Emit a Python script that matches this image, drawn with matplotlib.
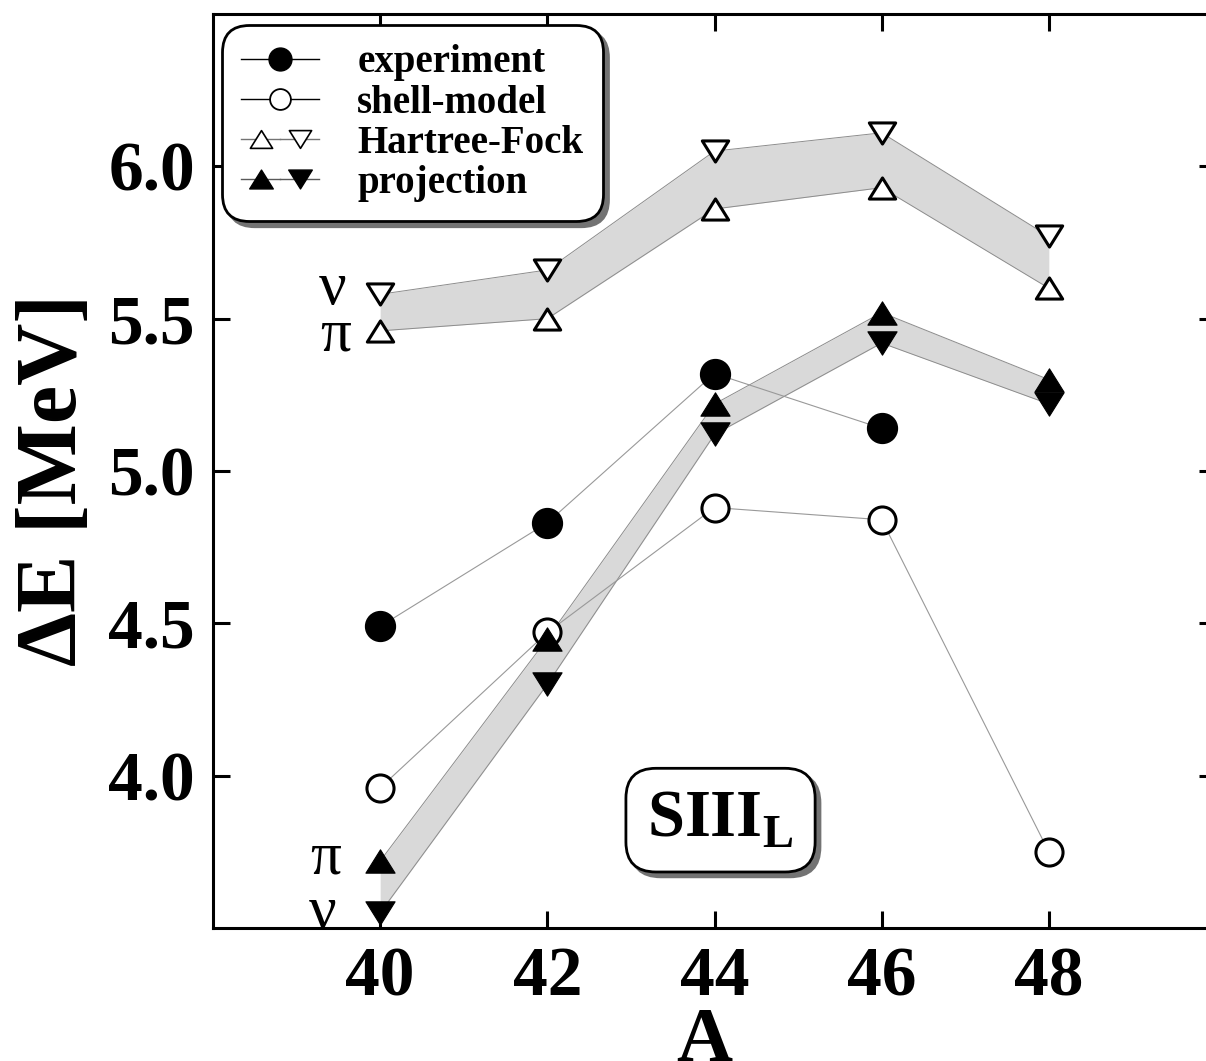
import numpy as np
import matplotlib
matplotlib.use("Agg")
import matplotlib.pyplot as plt
from matplotlib.path import Path
from matplotlib.lines import Line2D
from matplotlib.legend_handler import HandlerTuple
from matplotlib import transforms

plt.rcParams['font.family'] = ['Liberation Serif', 'DejaVu Serif']
plt.rcParams['font.weight'] = 'bold'
plt.rcParams['axes.labelweight'] = 'bold'
plt.rcParams['mathtext.fontset'] = 'custom'
plt.rcParams['mathtext.bf'] = 'Liberation Serif:bold'
plt.rcParams['mathtext.rm'] = 'Liberation Serif:bold'

# mass number and level splittings (MeV)
A = [40, 42, 44, 46, 48]
A_exp = [40, 42, 44, 46]
experiment = [4.49, 4.83, 5.32, 5.14]
shell_model = [3.96, 4.47, 4.88, 4.84, 3.75]
hf_pi = [5.46, 5.50, 5.86, 5.93, 5.60]
hf_nu = [5.58, 5.66, 6.05, 6.11, 5.77]
proj_pi = [3.72, 4.45, 5.22, 5.52, 5.30]
proj_nu = [3.55, 4.30, 5.12, 5.42, 5.22]

xticks = [40, 42, 44, 46, 48]
yticks = [4.0, 4.5, 5.0, 5.5, 6.0]
legend_labels = ['experiment', 'shell-model', 'Hartree-Fock', 'projection']

# slightly flattened triangles
tri_up = Path([(0, 0.8), (-1, -0.8), (1, -0.8), (0, 0.8)],
              [Path.MOVETO, Path.LINETO, Path.LINETO, Path.CLOSEPOLY])
tri_dn = Path([(0, -0.8), (-1, 0.8), (1, 0.8), (0, -0.8)],
              [Path.MOVETO, Path.LINETO, Path.LINETO, Path.CLOSEPOLY])

fig = plt.figure(figsize=(12.06, 10.61), dpi=100)
ax = fig.add_axes([213/1206, 133/1061, 1003/1206, 914/1061])

band_col = '#d9d9d9'
edge_col = '0.55'
line_col = '0.6'

# shaded bands between proton and neutron values
ax.fill_between(A, hf_pi, hf_nu, color=band_col, lw=0, zorder=1)
ax.fill_between(A, proj_pi, proj_nu, color=band_col, lw=0, zorder=1)
for ys in (hf_pi, hf_nu, proj_pi, proj_nu):
    ax.plot(A, ys, color=edge_col, lw=0.7, zorder=1.5)

# thin connecting lines
ax.plot(A_exp, experiment, color=line_col, lw=0.8, zorder=2)
ax.plot(A, shell_model, color=line_col, lw=0.8, zorder=2)

ax.plot(A, shell_model, ls='none', marker='o', ms=19.5, mfc='white',
        mec='k', mew=2.2, zorder=3)
ax.plot(A, hf_pi, ls='none', marker=tri_up, ms=19, mfc='white',
        mec='k', mew=2.2, zorder=3)
ax.plot(A, hf_nu, ls='none', marker=tri_dn, ms=19, mfc='white',
        mec='k', mew=2.2, zorder=3)
ax.plot(A, proj_pi, ls='none', marker=tri_up, ms=21, mfc='k',
        mec='k', mew=0.8, zorder=4)
ax.plot(A, proj_nu, ls='none', marker=tri_dn, ms=21, mfc='k',
        mec='k', mew=0.8, zorder=4)
ax.plot(A_exp, experiment, ls='none', marker='o', ms=21.5, mfc='k',
        mec='k', zorder=4)

# pi / nu tags at A=40
greek = dict(fontsize=44, fontweight='normal', ha='center', va='baseline',
             textcoords='offset points', zorder=5)
ax.annotate('ν', (A[0], hf_nu[0]), xytext=(-34.5, -7), **greek)
ax.annotate('π', (A[0], hf_pi[0]), xytext=(-32, -14), **greek)
ax.annotate('π', (A[0], proj_pi[0]), xytext=(-39.5, -9), **greek)
ax.annotate('ν', (A[0], proj_nu[0]), xytext=(-41.5, -11), **greek)

ax.set_xlim(38, 50)
ax.set_ylim(3.5, 6.5)
ax.set_xticks(xticks)
ax.set_xticklabels([str(t) for t in xticks])
ax.set_yticks(yticks)
ax.set_yticklabels(['%.1f' % t for t in yticks])
ax.tick_params(direction='in', length=12, width=2.2, top=True, right=True,
               labelsize=50, pad=13)
for s in ax.spines.values():
    s.set_linewidth(2.2)

ax.set_xlabel('A', fontsize=56, fontweight='bold')
ax.xaxis.set_label_coords(0.49, -0.086)
ax.set_ylabel('ΔE [MeV]', fontsize=62, fontweight='bold')
ax.yaxis.set_label_coords(-0.118, 0.49)

# legend
h_exp = Line2D([], [], color='k', lw=1, marker='o', ms=16.5, mfc='k', mec='k')
h_sm = Line2D([], [], color='k', lw=1, marker='o', ms=15, mfc='white',
              mec='k', mew=1.3)
h_hf_up = Line2D([], [], color='0.45', lw=1, marker=tri_up, ms=16,
                 mfc='white', mec='k', mew=1.2)
h_hf_dn = Line2D([], [], color='0.45', lw=1, marker=tri_dn, ms=16,
                 mfc='white', mec='k', mew=1.2)
h_pr_up = Line2D([], [], color='0.35', lw=1, marker=tri_up, ms=17, mfc='k',
                 mec='k')
h_pr_dn = Line2D([], [], color='0.35', lw=1, marker=tri_dn, ms=17, mfc='k',
                 mec='k')

leg = ax.legend([h_exp, h_sm, (h_hf_up, h_hf_dn), (h_pr_up, h_pr_dn)],
                legend_labels, loc='upper left',
                bbox_to_anchor=(0.009, 0.988), borderaxespad=0,
                fontsize=28, handlelength=2.0, handletextpad=0.98,
                labelspacing=0.08, borderpad=0.5, framealpha=1,
                edgecolor='k', fancybox=True,
                shadow={'color': '0.45', 'alpha': 1, 'ox': 4, 'oy': -4},
                handler_map={tuple: HandlerTuple(ndivide=None, pad=0)})
leg.get_frame().set_linewidth(2)
leg.get_frame().set_boxstyle('round', pad=0, rounding_size=0.7)

# force-parameter tag with drop shadow
tag = r'$\mathbf{SIII}_\mathbf{L}$'
shadow_tr = transforms.offset_copy(ax.transAxes, fig=fig, x=3.5, y=-3.5,
                                   units='points')
ax.text(0.506, 0.118, tag, transform=shadow_tr, fontsize=48, color='none',
        ha='center', va='center', zorder=5,
        bbox=dict(boxstyle='round,pad=0.32,rounding_size=0.45', fc='0.45',
                  ec='0.45', lw=2))
ax.text(0.506, 0.118, tag, transform=ax.transAxes, fontsize=48,
        ha='center', va='center', zorder=6,
        bbox=dict(boxstyle='round,pad=0.32,rounding_size=0.45', fc='white',
                  ec='k', lw=2))

fig.savefig('out.png', dpi=100)
